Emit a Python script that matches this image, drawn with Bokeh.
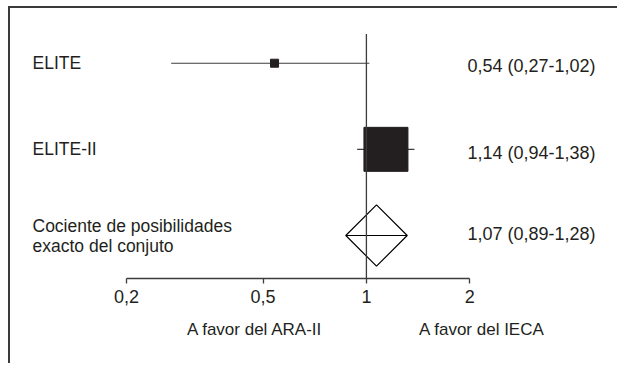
import math
from bokeh.plotting import figure
from bokeh.layouts import column
from bokeh.models import Range1d, FixedTicker, LogAxis, ColumnDataSource
from bokeh.core.properties import value
from bokeh.embed import file_html
from bokeh.resources import INLINE

# ---------------- data ----------------
studies = ["ELITE", "ELITE-II", "Cociente de posibilidades\nexacto del conjuto"]
odds_ratio = [0.54, 1.14, 1.07]
ci_low = [0.27, 0.94, 0.89]
ci_high = [1.02, 1.38, 1.28]
ci_text = ["0,54 (0,27-1,02)", "1,14 (0,94-1,38)", "1,07 (0,89-1,28)"]
tick_values = [0.2, 0.5, 1, 2]
tick_labels = ["0,2", "0,5", "1", "2"]
favor_labels = ["A favor del ARA-II", "A favor del IECA"]
favor_positions = [0.474, 2.17]
null_value = 1

# ---------------- layout ----------------
FONT = "Liberation Sans"
INK = "#231f20"
LINE = "#3c3c3c"

n = len(studies)
rows = [n - i for i in range(n)]  # top row first

X_START, X_END = 0.0919, 5.46
Y_START, Y_END = 0.501, n + 0.635

p = figure(width=609, height=357, x_axis_type="log", y_axis_location=None,
           x_range=Range1d(X_START, X_END), y_range=Range1d(Y_START, Y_END),
           output_backend="svg", toolbar_location=None,
           min_border_left=0, min_border_right=0, min_border_top=0,
           min_border_bottom=87)
p.grid.visible = False
p.outline_line_color = None
p.background_fill_color = None
p.border_fill_color = None

# main axis
ax = p.xaxis[0]
ax.bounds = (min(tick_values), max(tick_values))
ax.ticker = FixedTicker(ticks=tick_values)
ax.major_label_overrides = {v: t for v, t in zip(tick_values, tick_labels)}
ax.minor_tick_line_color = None
ax.major_tick_in = 0
ax.major_tick_out = 5
ax.axis_line_color = LINE
ax.axis_line_width = 1.3
ax.major_tick_line_color = LINE
ax.major_tick_line_width = 1.3
ax.major_label_text_font = FONT
ax.major_label_text_font_size = "18px"
ax.major_label_text_color = INK
ax.major_label_standoff = 6

# caption axis
cap = LogAxis(ticker=FixedTicker(ticks=favor_positions),
              major_label_overrides={v: t for v, t in zip(favor_positions, favor_labels)})
cap.axis_line_color = None
cap.major_tick_line_color = None
cap.minor_tick_line_color = None
cap.major_tick_in = 0
cap.major_tick_out = 0
cap.major_label_text_font = FONT
cap.major_label_text_font_size = "17px"
cap.major_label_text_color = INK
cap.major_label_standoff = 14
p.add_layout(cap, "below")

src = ColumnDataSource(dict(y=rows, est=odds_ratio, lo=ci_low, hi=ci_high,
                            study=studies, txt=ci_text,
                            x_left=[X_START] * n, x_right=[X_END] * n,
                            txt_dy=[3, 3.5, -2]))

# whiskers for individual studies
p.segment(x0="lo", y0="y", x1="hi", y1="y", source=src, line_color=LINE,
          line_width=1.1)
# squares for studies (all but pooled)
box_px = [8, 44]
p.scatter(x=odds_ratio[:-1], y=rows[:-1], size=box_px, marker="square",
          fill_color=INK, line_color=INK, line_width=1)
# pooled diamond
p.scatter(x=odds_ratio[-1:], y=rows[-1:], size=43.4, marker="square",
          angle=math.pi / 4, fill_color=None, line_color="black", line_width=1.2)
p.scatter(x=odds_ratio[-1:], y=rows[-1:], size=61.4, marker="dash",
          line_color="black", line_width=1.2)

# null line
p.segment(x0=[null_value], y0=[Y_START], x1=[null_value], y1=[n + 0.34],
          line_color=LINE, line_width=1.3)

# labels
p.text(x="x_left", y="y", text="study", source=src, x_offset=22,
       text_font=value(FONT), text_font_size="17.5px", text_color=INK,
       text_baseline="middle", text_align="left", text_line_height=1.0)
p.text(x="x_right", y="y", text="txt", source=src, x_offset=-152, y_offset="txt_dy",
       text_font=value(FONT), text_font_size="18px", text_color=INK,
       text_baseline="middle", text_align="left")

layout = column(p, styles={"margin-left": "10px", "margin-top": "8px",
                           "box-shadow": "-2px -2px 0 0 #3a3a3a"})

open("out.html", "w").write(file_html(layout, INLINE))
